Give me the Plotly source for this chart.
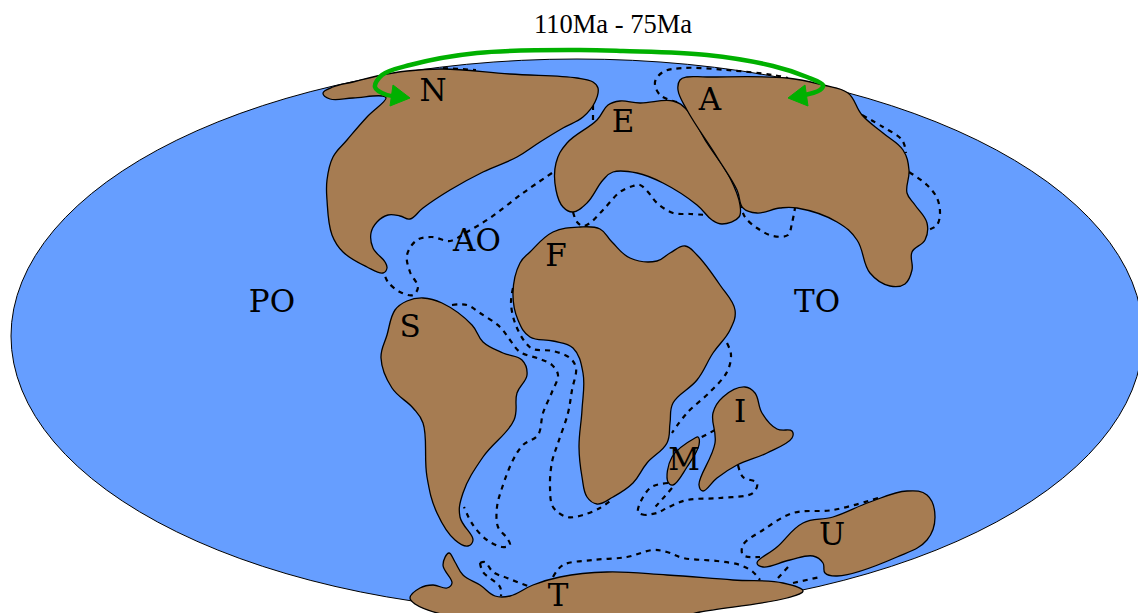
import plotly.graph_objects as go

OCEAN = "#669eff"; LAND = "#a67c52"; GREEN = "#00b000"
globe_bounds = (11, 59, 1143, 613)

north_america = [(323,93),(333,87),(353,82),(377,76),(407,71),(443,69),(510,74),(577,78),(593,82),(598,88),(595,102),(583,117),(563,128),(540,142),(517,157),(483,172),(450,190),(423,208),(410,219),(400,216),(388,215),(377,222),(371,233),(373,248),(385,262),(387,268),(383,273),(367,267),(343,252),(332,235),(327,200),(327,180),(333,157),(347,140),(367,117),(386,98),(382,96),(353,98),(330,99),(323,93)]
europe = [(608,105),(620,101),(640,103),(673,101),(687,110),(707,143),(730,178),(740,205),(739,217),(722,224),(712,220),(697,205),(663,183),(637,173),(613,172),(603,180),(587,203),(573,212),(563,207),(556,190),(556,163),(567,143),(597,120),(608,105)]
asia = [(687,77),(707,77),(787,78),(823,85),(848,93),(862,115),(883,133),(903,150),(909,170),(907,193),(915,205),(927,223),(925,240),(912,252),(912,270),(905,284),(890,286),(870,273),(857,240),(837,222),(797,208),(780,208),(757,213),(743,208),(737,190),(717,157),(687,110),(678,90),(680,80),(687,77)]
africa = [(580,227),(600,229),(612,242),(630,258),(657,261),(670,253),(685,246),(697,255),(720,285),(735,310),(730,330),(713,353),(697,380),(673,403),(670,423),(667,443),(647,463),(633,483),(613,497),(597,504),(587,497),(582,477),(579,447),(582,410),(583,373),(573,348),(553,341),(530,337),(518,320),(513,293),(520,263),(530,252),(553,232),(580,227)]
south_america = [(423,298),(442,303),(472,325),(483,342),(503,353),(522,360),(527,375),(517,393),(514,420),(483,457),(463,493),(460,517),(473,540),(468,546),(455,540),(437,513),(427,477),(423,423),(413,408),(392,388),(381,358),(387,335),(395,310),(407,301),(423,298)]
madagascar = [(698,437),(699,445),(687,467),(673,485),(668,482),(672,457),(695,438),(698,437)]
india = [(745,387),(755,393),(762,413),(777,429),(792,431),(792,438),(767,453),(737,465),(717,478),(703,491),(699,485),(715,443),(713,413),(723,397),(745,387)]
australia = [(907,491),(927,495),(935,517),(927,540),(897,557),(837,576),(825,573),(823,563),(813,556),(790,560),(763,567),(757,563),(777,547),(803,523),(833,517),(870,502),(907,491)]
antarctica = [(410,598),(420,588),(433,585),(447,588),(452,583),(443,565),(449,553),(455,562),(463,575),(480,585),(495,596),(510,596),(533,585),(560,577),(607,572),(667,575),(733,580),(783,583),(803,591),(787,598),(700,612),(683,616),(560,625),(450,616),(415,604),(410,598)]
continents = [north_america, europe, asia, africa, south_america, madagascar, india, australia, antarctica]

dashes = [
 [(443,68),(476,70)],
 [(552,173),(523,193),(490,218),(467,232),(450,241),(432,237),(417,240),(407,255),(410,272),(418,287),(413,295),(400,292),(388,282),(384,273)],
 [(593,105),(593,120)],
 [(573,212),(577,222),(583,226),(590,223),(603,210),(620,192),(633,186),(640,185),(648,192),(657,203),(673,213),(690,214),(707,215)],
 [(677,102),(660,95),(655,82),(663,72),(683,68),(727,70),(773,75),(788,78)],
 [(740,203),(745,217),(757,228),(773,236),(788,235),(792,223),(795,208)],
 [(862,115),(883,127),(902,140),(906,153)],
 [(909,172),(927,185),(937,198),(940,213),(937,225),(928,230)],
 [(452,305),(467,305),(480,313),(500,327),(510,340),(520,352),(540,359),(552,365),(558,375),(552,392),(543,413),(538,435),(523,445),(513,460),(502,488),(497,507),(498,527),(507,538),(510,545),(502,547),(487,540),(473,525),(464,507)],
 [(513,288),(511,303),(515,323),(525,342),(533,349),(553,351),(570,358),(576,368),(572,390),(568,413),(558,443),(552,462),(550,487),(553,507),(567,517),(583,515),(600,508),(610,501)],
 [(727,343),(731,355),(727,372),(710,392),(687,413),(672,433)],
 [(715,430),(700,438)],
 [(668,483),(650,488),(638,512),(645,515)],
 [(672,488),(657,505),(652,510)],
 [(738,465),(743,477),(757,483),(753,493),(720,498),(687,500),(667,508),(657,513),(645,515)],
 [(878,498),(833,510),(793,513),(763,530),(743,545),(743,555),(760,557)],
 [(553,577),(563,565),(593,560),(627,557),(653,550),(667,552),(683,558),(717,561),(740,565),(753,572),(760,580)],
 [(788,567),(778,578)],
 [(793,583),(820,577)],
 [(480,563),(485,562),(493,572),(507,578),(528,586)],
 [(480,563),(483,572),(500,587),(501,596)],
]

green_arc = [(397,96),(387,95),(375,87),(382,75),(410,65),(477,53),(577,50),(623,51),(707,55),(773,66),(807,77),(823,85),(820,90),(800,96)]
head_left = [(410,98),(393,85),(390,106),(410,98)]
head_right = [(788,98),(805,85),(808,106),(788,98)]

label_text = ["N","E","A","AO","F","PO","S","TO","I","M","U","T"]
label_x = [433,623,710,477,556,272,410,817,740,684,832,558]
label_y = [93,124,102,243,258,304,329,304,414,462,537,598]
title_text = "110Ma - 75Ma"
title_x, title_y = 613, 26

def xs(p): return [a for a, _ in p]
def ys(p): return [b for _, b in p]

fig = go.Figure()
for d in dashes:
    fig.add_trace(go.Scatter(x=xs(d), y=ys(d), mode="lines",
        line=dict(color="black", width=2.2, dash="5px,5px", shape="spline", smoothing=1)))
for c in continents:
    fig.add_trace(go.Scatter(x=xs(c), y=ys(c), mode="lines", fill="toself", fillcolor=LAND,
        line=dict(color="black", width=1.3, shape="spline", smoothing=1.15)))
fig.add_trace(go.Scatter(x=xs(green_arc), y=ys(green_arc), mode="lines",
    line=dict(color=GREEN, width=4.5, shape="spline", smoothing=1)))
for h in (head_left, head_right):
    fig.add_trace(go.Scatter(x=xs(h), y=ys(h), mode="lines", fill="toself", fillcolor=GREEN,
        line=dict(color=GREEN, width=1)))
fig.add_trace(go.Scatter(x=label_x, y=label_y, mode="text", text=label_text,
    textposition="middle center", textfont=dict(family="DejaVu Serif", size=31, color="black")))
fig.add_trace(go.Scatter(x=[title_x], y=[title_y], mode="text", text=[title_text],
    textposition="middle center", textfont=dict(family="Liberation Serif", size=26.5, color="black")))

fig.update_layout(
    width=1138, height=613, margin=dict(l=0, r=0, t=0, b=0), showlegend=False,
    paper_bgcolor="white", plot_bgcolor="white",
    xaxis=dict(range=[0, 1138], visible=False, fixedrange=True),
    yaxis=dict(range=[613, 0], visible=False, fixedrange=True),
    shapes=[dict(type="circle", layer="below", xref="x", yref="y",
                 x0=globe_bounds[0], y0=globe_bounds[1], x1=globe_bounds[2], y1=globe_bounds[3],
                 fillcolor=OCEAN, line=dict(color="black", width=1))],
)
fig.write_html("out.html", config=dict(displayModeBar=False),
    post_script="document.body.style.margin='0';document.body.style.overflow='hidden';")
